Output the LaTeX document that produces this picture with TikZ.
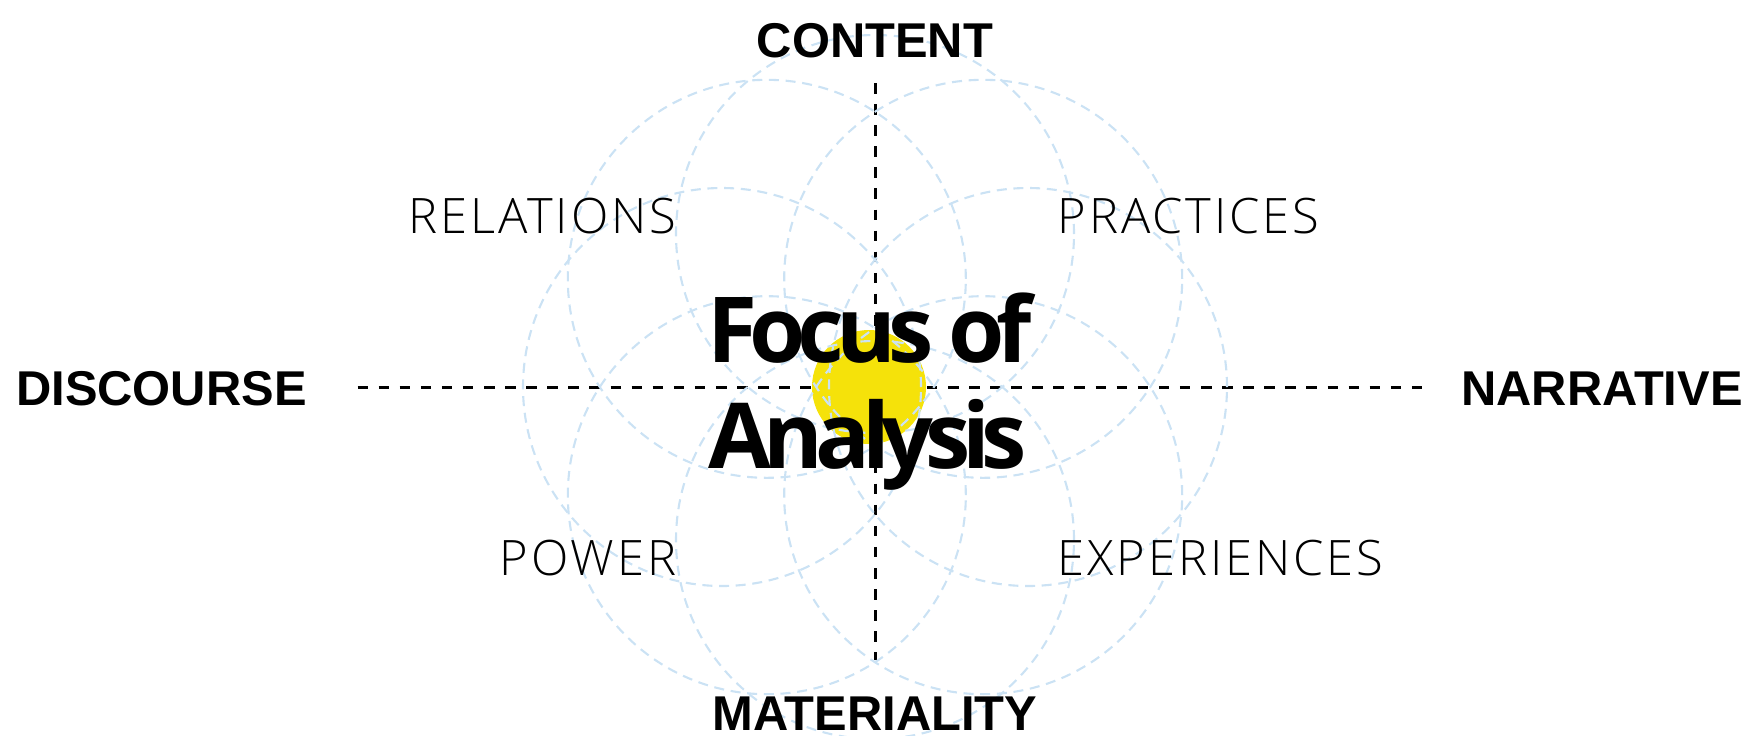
\documentclass[tikz,border=0pt]{standalone}
\usepackage{fontspec}
\usepackage{xcolor}
\usetikzlibrary{math}
\definecolor{petalblue}{RGB}{203,226,244}
\definecolor{focusyellow}{RGB}{245,226,10}
\newfontfamily\axisfont{Liberation Sans}
\newfontfamily\quadfont{Open Sans Light}[LetterSpace=6]
\newfontfamily\focusfont{Open Sans}[LetterSpace=-9]

\begin{document}
\begin{tikzpicture}[
  axislabel/.style={font=\axisfont\bfseries\fontsize{13.9}{15}\selectfont, inner sep=0, anchor=base},
  quadlabel/.style={font=\quadfont\fontsize{13.9}{15}\selectfont, inner sep=0},
  focuslabel/.style={font=\focusfont\bfseries\fontsize{25.9}{28}\selectfont, inner sep=0, anchor=base},
  axisline/.style={black, line width=0.85pt, dash pattern=on 3pt off 3pt},
  petal/.style={petalblue, line width=0.6pt, dash pattern=on 2.85pt off 1.9pt}]
\tikzmath{
\cx=8.75;
\cy=3.48;
\d=1.53;
\r=1.99;
\ry=0.57;
}
\useasboundingbox (0,0) rectangle (17.52,7.35);
%axis
\coordinate (top) at (\cx,6.52);
\coordinate (bottom) at (\cx,0.75);
\coordinate (left) at (3.575,\cy);
\coordinate (right) at (14.325,\cy);
\draw[axisline] (top) -- (bottom);
\draw[axisline] (left) -- (right);
%focus dot
\fill[focusyellow] (\cx-0.06,\cy) circle (\ry);
%petals
\draw[petal] (\cx,\cy) ++(0:\d) circle (\r);
\draw[petal] (\cx,\cy) ++(45:\d) circle (\r);
\draw[petal] (\cx,\cy) ++(90:\d) circle (\r);
\draw[petal] (\cx,\cy) ++(135:\d) circle (\r);
\draw[petal] (\cx,\cy) ++(180:\d) circle (\r);
\draw[petal] (\cx,\cy) ++(225:\d) circle (\r);
\draw[petal] (\cx,\cy) ++(270:\d) circle (\r);
\draw[petal] (\cx,\cy) ++(315:\d) circle (\r);
%axis labels
\node[axislabel] (content) at (\cx,6.78) {CONTENT};
\node[axislabel] (materiality) at (\cx,0.05) {MATERIALITY};
\node[axislabel] (discourse) at (1.615,3.30) {DISCOURSE};
\node[axislabel] (narrative) at (16.02,3.30) {NARRATIVE};
%quadrants
\node[quadlabel, anchor=base east] (relations) at (6.77,5.02) {RELATIONS};
\node[quadlabel, anchor=base east] (power) at (6.77,1.60) {POWER};
\node[quadlabel, anchor=base west] (practices) at (10.57,5.02) {PRACTICES};
\node[quadlabel, anchor=base west] (experiences) at (10.57,1.60) {EXPERIENCES};
%centre
\node[focuslabel] (focus) at (8.70,3.73) {Focus of};
\node[focuslabel] (analysis) at (8.68,2.67) {Analysis};
\end{tikzpicture}
\end{document}
